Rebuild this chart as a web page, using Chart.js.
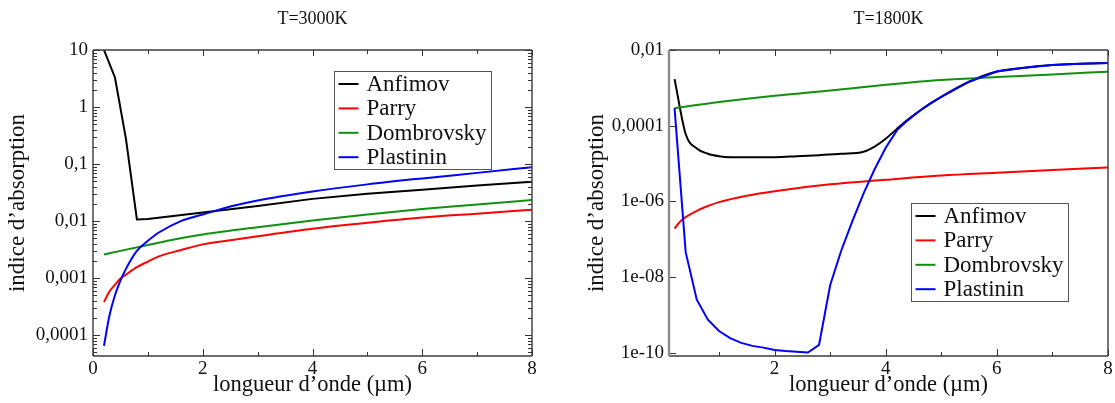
<!DOCTYPE html>
<html>
<head>
<meta charset="utf-8">
<script src="https://cdn.jsdelivr.net/npm/chart.js@4.4.1/dist/chart.umd.min.js"></script>
<style>
  html, body { margin: 0; padding: 0; background: #fff; }
  #wrap { position: relative; width: 1115px; height: 403px; overflow: hidden; }
  canvas { position: absolute; top: 0; }
  #hot { left: 0; }
  #cold { left: 557px; }
</style>
</head>
<body>
<div id="wrap">
  <canvas id="hot" width="557" height="403"></canvas>
  <canvas id="cold" width="558" height="403"></canvas>
</div>
<script>
const seriesNames = ['Anfimov', 'Parry', 'Dombrovsky', 'Plastinin'];
const seriesColors = ['#000000', '#ff0000', '#109010', '#0000ff'];

// T=3000K
const hotAnfimovX = [0.2, 0.4, 0.6, 0.8, 1, 1.5, 2, 3, 4, 5, 6, 7, 8];
const hotAnfimovY = [10, 3.3, 0.28, 0.0107, 0.0109, 0.0124, 0.0141, 0.0184, 0.0245, 0.030, 0.0355, 0.042, 0.049];
const hotParryX = [0.2, 0.3, 0.4, 0.5, 0.6, 0.8, 1, 1.2, 1.6, 2, 2.5, 3, 4, 5, 6, 7, 8];
const hotParryY = [3.8e-4, 5.8e-4, 7.6e-4, 9.8e-4, 1.15e-3, 1.55e-3, 1.95e-3, 2.4e-3, 3.1e-3, 3.9e-3, 4.6e-3, 5.4e-3, 7.3e-3, 9.3e-3, 1.15e-2, 1.35e-2, 1.58e-2];
const hotDombrovskyX = [0.2, 0.5, 1, 1.5, 2, 3, 4, 5, 6, 7, 8];
const hotDombrovskyY = [2.6e-3, 3.0e-3, 3.8e-3, 4.8e-3, 5.8e-3, 7.8e-3, 1.02e-2, 1.3e-2, 1.62e-2, 1.95e-2, 2.35e-2];
const hotPlastininX = [0.2, 0.3, 0.4, 0.5, 0.6, 0.8, 1, 1.2, 1.6, 2, 2.5, 3, 4, 5, 6, 7, 8];
const hotPlastininY = [6.5e-5, 2.2e-4, 5.0e-4, 9.0e-4, 1.45e-3, 3.0e-3, 4.5e-3, 6.3e-3, 1.0e-2, 1.3e-2, 1.8e-2, 2.3e-2, 3.3e-2, 4.4e-2, 5.6e-2, 7.0e-2, 8.8e-2];

// T=1800K
const coldAnfimovX = [0.2, 0.4, 0.6, 0.8, 1, 1.2, 1.6, 2, 2.4, 2.8, 3.2, 3.6, 3.8, 4, 4.2, 4.4, 4.6, 4.8, 5, 5.5, 6, 6.5, 7, 7.5, 8];
const coldAnfimovY = [1.7e-3, 6e-5, 2.5e-5, 1.8e-5, 1.55e-5, 1.46e-5, 1.45e-5, 1.46e-5, 1.55e-5, 1.66e-5, 1.8e-5, 2.05e-5, 2.8e-5, 4.5e-5, 8.2e-5, 1.45e-4, 2.4e-4, 3.8e-4, 5.8e-4, 1.45e-3, 2.7e-3, 3.4e-3, 4.0e-3, 4.3e-3, 4.5e-3];
const coldParryX = [0.2, 0.3, 0.4, 0.6, 0.8, 1, 1.5, 2, 3, 4, 5, 6, 7, 8];
const coldParryY = [1.9e-7, 2.9e-7, 3.8e-7, 5.6e-7, 7.5e-7, 9.5e-7, 1.4e-6, 1.85e-6, 2.8e-6, 3.7e-6, 4.8e-6, 5.7e-6, 6.7e-6, 7.8e-6];
const coldDombrovskyX = [0.2, 1, 2, 3, 4, 5, 6, 7, 8];
const coldDombrovskyY = [2.9e-4, 4.2e-4, 6.2e-4, 8.5e-4, 1.2e-3, 1.6e-3, 1.92e-3, 2.26e-3, 2.67e-3];
const coldPlastininX = [0.2, 0.4, 0.6, 0.8, 1, 1.2, 1.4, 1.6, 1.8, 2, 2.2, 2.4, 2.6, 2.8, 3, 3.2, 3.4, 3.6, 3.8, 4, 4.2, 4.4, 4.6, 4.8, 5, 5.5, 6, 6.5, 7, 7.5, 8];
const coldPlastininY = [2.9e-4, 4.5e-8, 2.5e-9, 7.4e-10, 3.7e-10, 2.4e-10, 1.8e-10, 1.5e-10, 1.35e-10, 1.17e-10, 1.1e-10, 1.05e-10, 1.0e-10, 1.6e-10, 6e-9, 5e-8, 3e-7, 1.6e-6, 7e-6, 2.6e-5, 7.5e-5, 1.4e-4, 2.4e-4, 3.8e-4, 5.8e-4, 1.45e-3, 2.7e-3, 3.4e-3, 4.0e-3, 4.3e-3, 4.5e-3];

// axes
const hotXTicks = [0, 2, 4, 6, 8];
const coldXTicks = [2, 4, 6, 8];
const xMinorTicks = [1, 3, 5, 7];
const hotYTicks = [10, 1, 0.1, 0.01, 0.001, 0.0001];
const hotYLabels = ['10', '1', '0,1', '0,01', '0,001', '0,0001'];
const coldYTicks = [1e-2, 1e-4, 1e-6, 1e-8, 1e-10];
const coldYLabels = ['0,01', '0,0001', '1e-06', '1e-08', '1e-10'];

const FONT = "'Liberation Serif', 'Times New Roman', serif";
Chart.defaults.font.family = FONT;
Chart.defaults.color = '#111';

function logMinors(lo, hi) {
    const out = [];
    for (let e = Math.floor(Math.log10(lo)); e < Math.ceil(Math.log10(hi)); e++) {
        for (let m = 2; m <= 9; m++) {
            const v = m * Math.pow(10, e);
            if (v > lo && v < hi) out.push(v);
        }
    }
    return out;
}

// frame, inside tick marks, title and boxed legend
const decorPlugin = {
    id: 'decor',
    afterDatasetsDraw(chart, args, o) {
        const {ctx, chartArea: a, scales: {x, y}} = chart;
        ctx.save();
        ctx.strokeStyle = '#333';
        ctx.lineWidth = 1;
        const seg = (x1, y1, x2, y2) => {
            ctx.beginPath(); ctx.moveTo(x1, y1); ctx.lineTo(x2, y2); ctx.stroke();
        };
        o.xMajor.forEach(v => {
            const p = Math.round(x.getPixelForValue(v)) + 0.5;
            seg(p, a.bottom, p, a.bottom - 7); seg(p, a.top, p, a.top + 6);
        });
        o.xMinor.forEach(v => {
            const p = Math.round(x.getPixelForValue(v)) + 0.5;
            seg(p, a.bottom, p, a.bottom - 4); seg(p, a.top, p, a.top + 4);
        });
        o.yMajor.forEach(v => {
            const p = Math.round(y.getPixelForValue(v)) + 0.5;
            seg(a.left, p, a.left + 7, p);
            if (o.rightTicks) seg(a.right, p, a.right - 7, p);
        });
        o.yMinor.forEach(v => {
            const p = Math.round(y.getPixelForValue(v)) + 0.5;
            seg(a.left, p, a.left + 4, p);
            if (o.rightTicks) seg(a.right, p, a.right - 4, p);
        });
        ctx.lineWidth = 1.4;
        ctx.strokeStyle = '#3a3a3a';
        seg(a.left, a.top, a.right, a.top);
        seg(a.right, a.top, a.right, a.bottom);
        seg(a.left, a.bottom, a.right, a.bottom);
        ctx.strokeStyle = o.leftColor;
        ctx.lineWidth = o.leftWidth;
        seg(a.left, a.top, a.left, a.bottom);

        // title
        ctx.fillStyle = '#111';
        ctx.font = '18px ' + FONT;
        ctx.textAlign = 'center';
        ctx.textBaseline = 'middle';
        ctx.fillText(o.title, (a.left + a.right) / 2, 19);

        // legend
        const bx = Math.round(a.left + o.legendX) + 0.5, by = Math.round(a.top + o.legendY) + 0.5;
        ctx.fillStyle = '#fff';
        ctx.fillRect(bx, by, 157, 98);
        ctx.strokeStyle = '#555';
        ctx.lineWidth = 1;
        ctx.strokeRect(bx, by, 157, 98);
        ctx.font = '23px ' + FONT;
        ctx.textAlign = 'left';
        chart.data.datasets.forEach((ds, i) => {
            const ly = by + 12.5 + i * 24.4;
            ctx.strokeStyle = ds.borderColor;
            ctx.lineWidth = 2;
            seg(bx + 4, ly, bx + 24, ly);
            ctx.fillStyle = '#111';
            ctx.fillText(ds.label, bx + 32, ly + 1);
        });
        ctx.restore();
    }
};

function makeChart(id, cfg) {
    const sets = cfg.series.map((s, i) => ({
        label: seriesNames[i],
        data: s[0].map((xv, k) => ({x: xv, y: s[1][k]})),
        borderColor: seriesColors[i],
        backgroundColor: seriesColors[i],
        borderWidth: 2,
        pointRadius: 0,
        fill: false,
        order: 4 - i,
        tension: 0,
        cubicInterpolationMode: cfg.sharp.includes(i) ? 'default' : 'monotone'
    }));
    return new Chart(document.getElementById(id), {
        type: 'line',
        data: {datasets: sets},
        plugins: [decorPlugin],
        options: {
            responsive: false,
            animation: false,
            devicePixelRatio: 1,
            layout: {padding: {left: 0, right: cfg.padRight, top: 50, bottom: 0}},
            plugins: {
                legend: {display: false},
                tooltip: {enabled: false},
                decor: {
                    title: cfg.title,
                    xMajor: cfg.xTicks, xMinor: xMinorTicks,
                    yMajor: cfg.yTicks, yMinor: cfg.yMinor,
                    rightTicks: cfg.rightTicks,
                    leftColor: cfg.leftColor, leftWidth: cfg.leftWidth,
                    legendX: cfg.legendX, legendY: cfg.legendY
                }
            },
            scales: {
                x: {
                    type: 'linear',
                    min: cfg.xMin, max: 8,
                    grid: {display: false, drawTicks: false},
                    border: {display: false},
                    afterBuildTicks: s => { s.ticks = cfg.xTicks.map(v => ({value: v})); },
                    afterFit: s => { s.height = 47; },
                    ticks: {
                        autoSkip: false, maxRotation: 0, padding: 2,
                        font: {size: 19}, color: '#111',
                        callback: v => String(v)
                    },
                    title: {
                        display: true, text: 'longueur d’onde (µm)',
                        font: {size: 22.5}, color: '#111',
                        padding: {top: 0, bottom: 4}
                    }
                },
                y: {
                    type: 'logarithmic',
                    min: cfg.yMin, max: cfg.yMax,
                    grid: {display: false, drawTicks: false},
                    border: {display: false},
                    afterBuildTicks: s => { s.ticks = cfg.yTicks.map(v => ({value: v})); },
                    afterFit: s => { s.width = cfg.yWidth; },
                    ticks: {
                        autoSkip: false, padding: 5,
                        font: {size: 19}, color: '#111',
                        callback: v => cfg.yLabels[cfg.yTicks.indexOf(v)]
                    },
                    title: {
                        display: true, text: 'indice d’absorption',
                        font: {size: 23}, color: '#111',
                        padding: {top: cfg.yTitlePad, bottom: 0}
                    }
                }
            }
        }
    });
}

makeChart('hot', {
    title: 'T=3000K',
    series: [[hotAnfimovX, hotAnfimovY], [hotParryX, hotParryY], [hotDombrovskyX, hotDombrovskyY], [hotPlastininX, hotPlastininY]],
    sharp: [0],
    xMin: 0, xTicks: hotXTicks,
    yMin: 4.3e-5, yMax: 10, yTicks: hotYTicks, yLabels: hotYLabels, yMinor: logMinors(4.3e-5, 10),
    rightTicks: true, leftColor: '#3a3a3a', leftWidth: 1.4,
    padRight: 25, yWidth: 93, yTitlePad: 4,
    legendX: 241, legendY: 21
});

makeChart('cold', {
    title: 'T=1800K',
    series: [[coldAnfimovX, coldAnfimovY], [coldParryX, coldParryY], [coldDombrovskyX, coldDombrovskyY], [coldPlastininX, coldPlastininY]],
    sharp: [3],
    xMin: 0.1, xTicks: coldXTicks,
    yMin: 8.1e-11, yMax: 1e-2, yTicks: coldYTicks, yLabels: coldYLabels, yMinor: [],
    rightTicks: false, leftColor: '#8c8c8c', leftWidth: 2.4,
    padRight: 7, yWidth: 112, yTitlePad: 26,
    legendX: 242, legendY: 153
});
</script>
</body>
</html>
